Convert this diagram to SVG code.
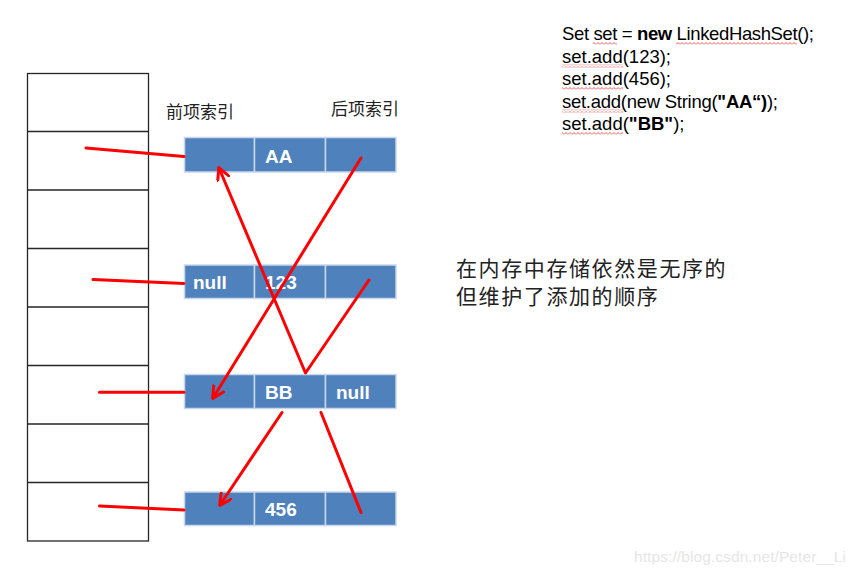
<svg xmlns="http://www.w3.org/2000/svg" width="855" height="574" viewBox="0 0 855 574">
<style>
.tbl{fill:none;stroke:#262626;stroke-width:1.3}
.cell{fill:#4F81BD;stroke:#c9d7ec;stroke-width:1.5}
.ct{font-family:"Liberation Sans",Arial,sans-serif;font-weight:bold;font-size:19px;fill:#fff}
.red{fill:none;stroke:#ff0000;stroke-width:3;stroke-linecap:round;stroke-linejoin:round}
.cjk{font-family:"Noto Sans CJK SC","Noto Sans",sans-serif;fill:#222}
.code{font-family:"Liberation Sans",Arial,sans-serif;font-size:18.5px;fill:#000}
.b{font-weight:bold}
.wm{font-family:"Liberation Sans",Arial,sans-serif;font-size:15.5px;fill:#e6e6e6}
</style>
<defs>
<marker id="ah" viewBox="0 0 14 14" refX="12" refY="7" markerWidth="14" markerHeight="14" markerUnits="userSpaceOnUse" orient="auto">
<path d="M1,1 L12.5,7 L1,13" fill="none" stroke="#ff0000" stroke-width="3" stroke-linecap="round" stroke-linejoin="round"/>
</marker>
<pattern id="sq" width="4" height="3" patternUnits="userSpaceOnUse">
<path d="M0,2.5 L2,0.5 L4,2.5" fill="none" stroke="#e03030" stroke-width="0.8"/>
</pattern>
</defs>
<rect width="855" height="574" fill="#fff"/>

<g id="hash-table">
<rect class="tbl" x="27.5" y="73.5" width="121" height="467.5"/>
<path class="tbl" d="M27.5,131.5H148.5M27.5,190H148.5M27.5,248.5H148.5M27.5,307H148.5M27.5,365.5H148.5M27.5,424H148.5M27.5,482.5H148.5"/>
</g>

<g id="labels">
<text class="cjk" x="166" y="117.5" font-size="17">前项索引</text>
<text class="cjk" x="331" y="115" font-size="17">后项索引</text>
</g>

<g id="node-AA">
<rect class="cell" x="184.5" y="137.5" width="70" height="34.5"/>
<rect class="cell" x="254.5" y="137.5" width="71" height="34.5"/>
<rect class="cell" x="325.5" y="137.5" width="70.5" height="34.5"/>
<text class="ct" x="265" y="162.5">AA</text>
</g>

<g id="node-123">
<rect class="cell" x="184.5" y="265" width="70" height="33.5"/>
<rect class="cell" x="254.5" y="265" width="71" height="33.5"/>
<rect class="cell" x="325.5" y="265" width="70.5" height="33.5"/>
<text class="ct" x="193" y="289">null</text>
<text class="ct" x="265" y="289">123</text>
</g>

<g id="node-BB">
<rect class="cell" x="184.5" y="374.5" width="70" height="34"/>
<rect class="cell" x="254.5" y="374.5" width="71" height="34"/>
<rect class="cell" x="325.5" y="374.5" width="70.5" height="34"/>
<text class="ct" x="265" y="398.5">BB</text>
<text class="ct" x="336" y="398.5">null</text>
</g>

<g id="node-456">
<rect class="cell" x="184.5" y="492" width="70" height="33.5"/>
<rect class="cell" x="254.5" y="492" width="71" height="33.5"/>
<rect class="cell" x="325.5" y="492" width="70.5" height="33.5"/>
<text class="ct" x="265" y="516">456</text>
</g>

<g id="connectors">
<path class="red" d="M86,148 L184,156.5"/>
<path class="red" d="M93,279.5 L184,283.5"/>
<path class="red" d="M99.5,392.3 L184,392.3"/>
<path class="red" d="M99.5,506 L184,510"/>
<polyline class="red" points="369,280 305.5,373 219,168" marker-end="url(#ah)"/>
<path class="red" d="M361,158 L213,398" marker-end="url(#ah)"/>
<path class="red" d="M282,412.5 L220,505" marker-end="url(#ah)"/>
<path class="red" d="M321,412.5 L361,512.5"/>
</g>

<g id="note">
<text class="cjk" x="456" y="276" font-size="21" letter-spacing="1.6">在内存中存储依然是无序的</text>
<text class="cjk" x="456" y="304" font-size="21" letter-spacing="1.6">但维护了添加的顺序</text>
</g>

<g id="code">
<text class="code" x="562" y="40" textLength="252" lengthAdjust="spacing">Set set = <tspan class="b">new</tspan> LinkedHashSet();</text>
<text class="code" x="562" y="62.5">set.add(123);</text>
<text class="code" x="562" y="85">set.add(456);</text>
<text class="code" x="562" y="107.5" textLength="216" lengthAdjust="spacing">set.add(new String(<tspan class="b">"AA“)</tspan>);</text>
<text class="code" x="562" y="130">set.add(<tspan class="b">"BB"</tspan>);</text>
<rect x="593" y="42" width="24" height="3" fill="url(#sq)"/>
<rect x="676" y="42" width="121" height="3" fill="url(#sq)"/>
<rect x="562" y="64.5" width="61" height="3" fill="url(#sq)"/>
<rect x="562" y="87" width="61" height="3" fill="url(#sq)"/>
<rect x="562" y="109.5" width="61" height="3" fill="url(#sq)"/>
<rect x="562" y="132" width="61" height="3" fill="url(#sq)"/>
</g>

<text class="wm" x="634" y="562" textLength="212" lengthAdjust="spacing">https://blog.csdn.net/Peter__Li</text>
</svg>
